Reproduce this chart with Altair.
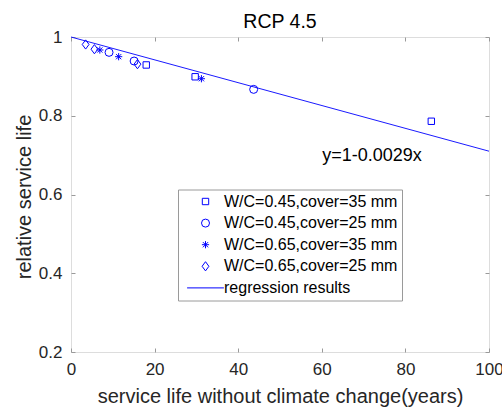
import altair as alt
import pandas as pd

BLUE = "#0000ff"
FONT = "Liberation Sans"
TXT = "#262626"
FRAME = "#9a9a9a"

series = ["W/C=0.45,cover=35 mm", "W/C=0.45,cover=25 mm",
          "W/C=0.65,cover=35 mm", "W/C=0.65,cover=25 mm"]
reg_label = "regression results"

sq_x = [18.0, 29.7, 86.2]
sq_y = [0.929, 0.899, 0.786]
ci_x = [9.1, 15.1, 43.7]
ci_y = [0.961, 0.939, 0.867]
as_x = [6.9, 11.4, 31.2]
as_y = [0.967, 0.950, 0.894]
di_x = [3.5, 5.6, 15.9]
di_y = [0.981, 0.969, 0.931]

reg_x = [0, 100]
reg_y = [1.0, 0.71]

eq_x = [72]
eq_y = [0.698]
eq_text = ["y=1-0.0029x"]

x_ticks = [0, 20, 40, 60, 80, 100]
y_ticks = [0.2, 0.4, 0.6, 0.8, 1.0]

rows = []
for name, xs, ys in zip(series, [sq_x, ci_x, as_x, di_x], [sq_y, ci_y, as_y, di_y]):
    for a, b in zip(xs, ys):
        rows.append({"series": name, "x": a, "y": b})
pts = pd.DataFrame(rows)
reg = pd.DataFrame({"x": reg_x, "y": reg_y})
eq = pd.DataFrame({"x": eq_x, "y": eq_y, "t": eq_text})

square_path = "M-0.8,-0.8L0.8,-0.8L0.8,0.8L-0.8,0.8Z"
asterisk_path = "M-0.9,0L0.9,0M0,-0.9L0,0.9M-0.65,-0.65L0.65,0.65M-0.65,0.65L0.65,-0.65"
diamond_path = "M0,-1.15L0.85,0L0,1.15L-0.85,0Z"
line_path = "M-4.6,0L4.6,0"

shape_domain = series + [reg_label]
shape_range = [square_path, "circle", asterisk_path, diamond_path, line_path]

x_scale = alt.Scale(domain=[0, 100], nice=False, zero=False)
y_scale = alt.Scale(domain=[0.2, 1.0], nice=False, zero=False)

common_axis = dict(offset=-4, tickSize=4, domain=False, grid=False, labelFlush=False,
                   labelOverlap=False,
                   tickColor=FRAME, tickWidth=1, labelFont=FONT, labelFontSize=17,
                   labelColor=TXT, titleFont=FONT, titleFontSize=20,
                   titleFontWeight="normal", titleColor=TXT)

points = alt.Chart(pts).mark_point(filled=False, color=BLUE, size=64, strokeWidth=1, opacity=1).encode(
    x=alt.X("x:Q", scale=x_scale,
            axis=alt.Axis(orient="bottom", title="service life without climate change(years)",
                          values=x_ticks, format="d", labelPadding=9.5,
                          titleY=54.5, titleBaseline="alphabetic", **common_axis)),
    y=alt.Y("y:Q", scale=y_scale,
            axis=alt.Axis(orient="left", title="relative service life",
                          values=y_ticks, format="~g", labelPadding=9,
                          titleX=-44.5, titleY=159.5, titleBaseline="alphabetic", **common_axis)),
    shape=alt.Shape("series:N", scale=alt.Scale(domain=shape_domain, range=shape_range),
                    legend=alt.Legend(title=None, orient="none", legendX=107, legendY=152.5,
                                      padding=4, symbolOffset=15.5, labelOffset=10.5,
                                      rowPadding=5.6, symbolSize=64, symbolStrokeWidth=1,
                                      symbolStrokeColor=BLUE, symbolFillColor="transparent",
                                      labelFont=FONT, labelFontSize=16, labelColor="#000000",
                                      labelLimit=400, strokeColor=FRAME, fillColor="#ffffff")),
)

line = alt.Chart(reg).mark_line(color=BLUE, strokeWidth=0.9).encode(
    x=alt.X("x:Q", scale=x_scale,
            axis=alt.Axis(orient="top", title=None, labels=False, values=x_ticks, **common_axis)),
    y=alt.Y("y:Q", scale=y_scale,
            axis=alt.Axis(orient="right", title=None, labels=False, values=y_ticks, **common_axis)),
)

text = alt.Chart(eq).mark_text(font=FONT, fontSize=18, color="#000000", align="center",
                               baseline="middle").encode(
    x=alt.X("x:Q", scale=x_scale, axis=None),
    y=alt.Y("y:Q", scale=y_scale, axis=None),
    text="t:N",
)

chart = alt.layer(line, points, text).resolve_axis(x="independent", y="independent").properties(
    width=418, height=315,
    title=alt.TitleParams("RCP 4.5", font=FONT, fontSize=19.5, fontWeight="normal",
                          color="#000000", anchor="middle", baseline="bottom", offset=8, dy=31),
    autosize=alt.AutoSizeParams(type="none"),
    padding={"left": 71, "top": 37, "right": 13, "bottom": 58},
).configure_view(stroke=FRAME, strokeWidth=1).configure(background="#ffffff")

chart.save("out.html", embed_options={"renderer": "svg", "actions": False})
